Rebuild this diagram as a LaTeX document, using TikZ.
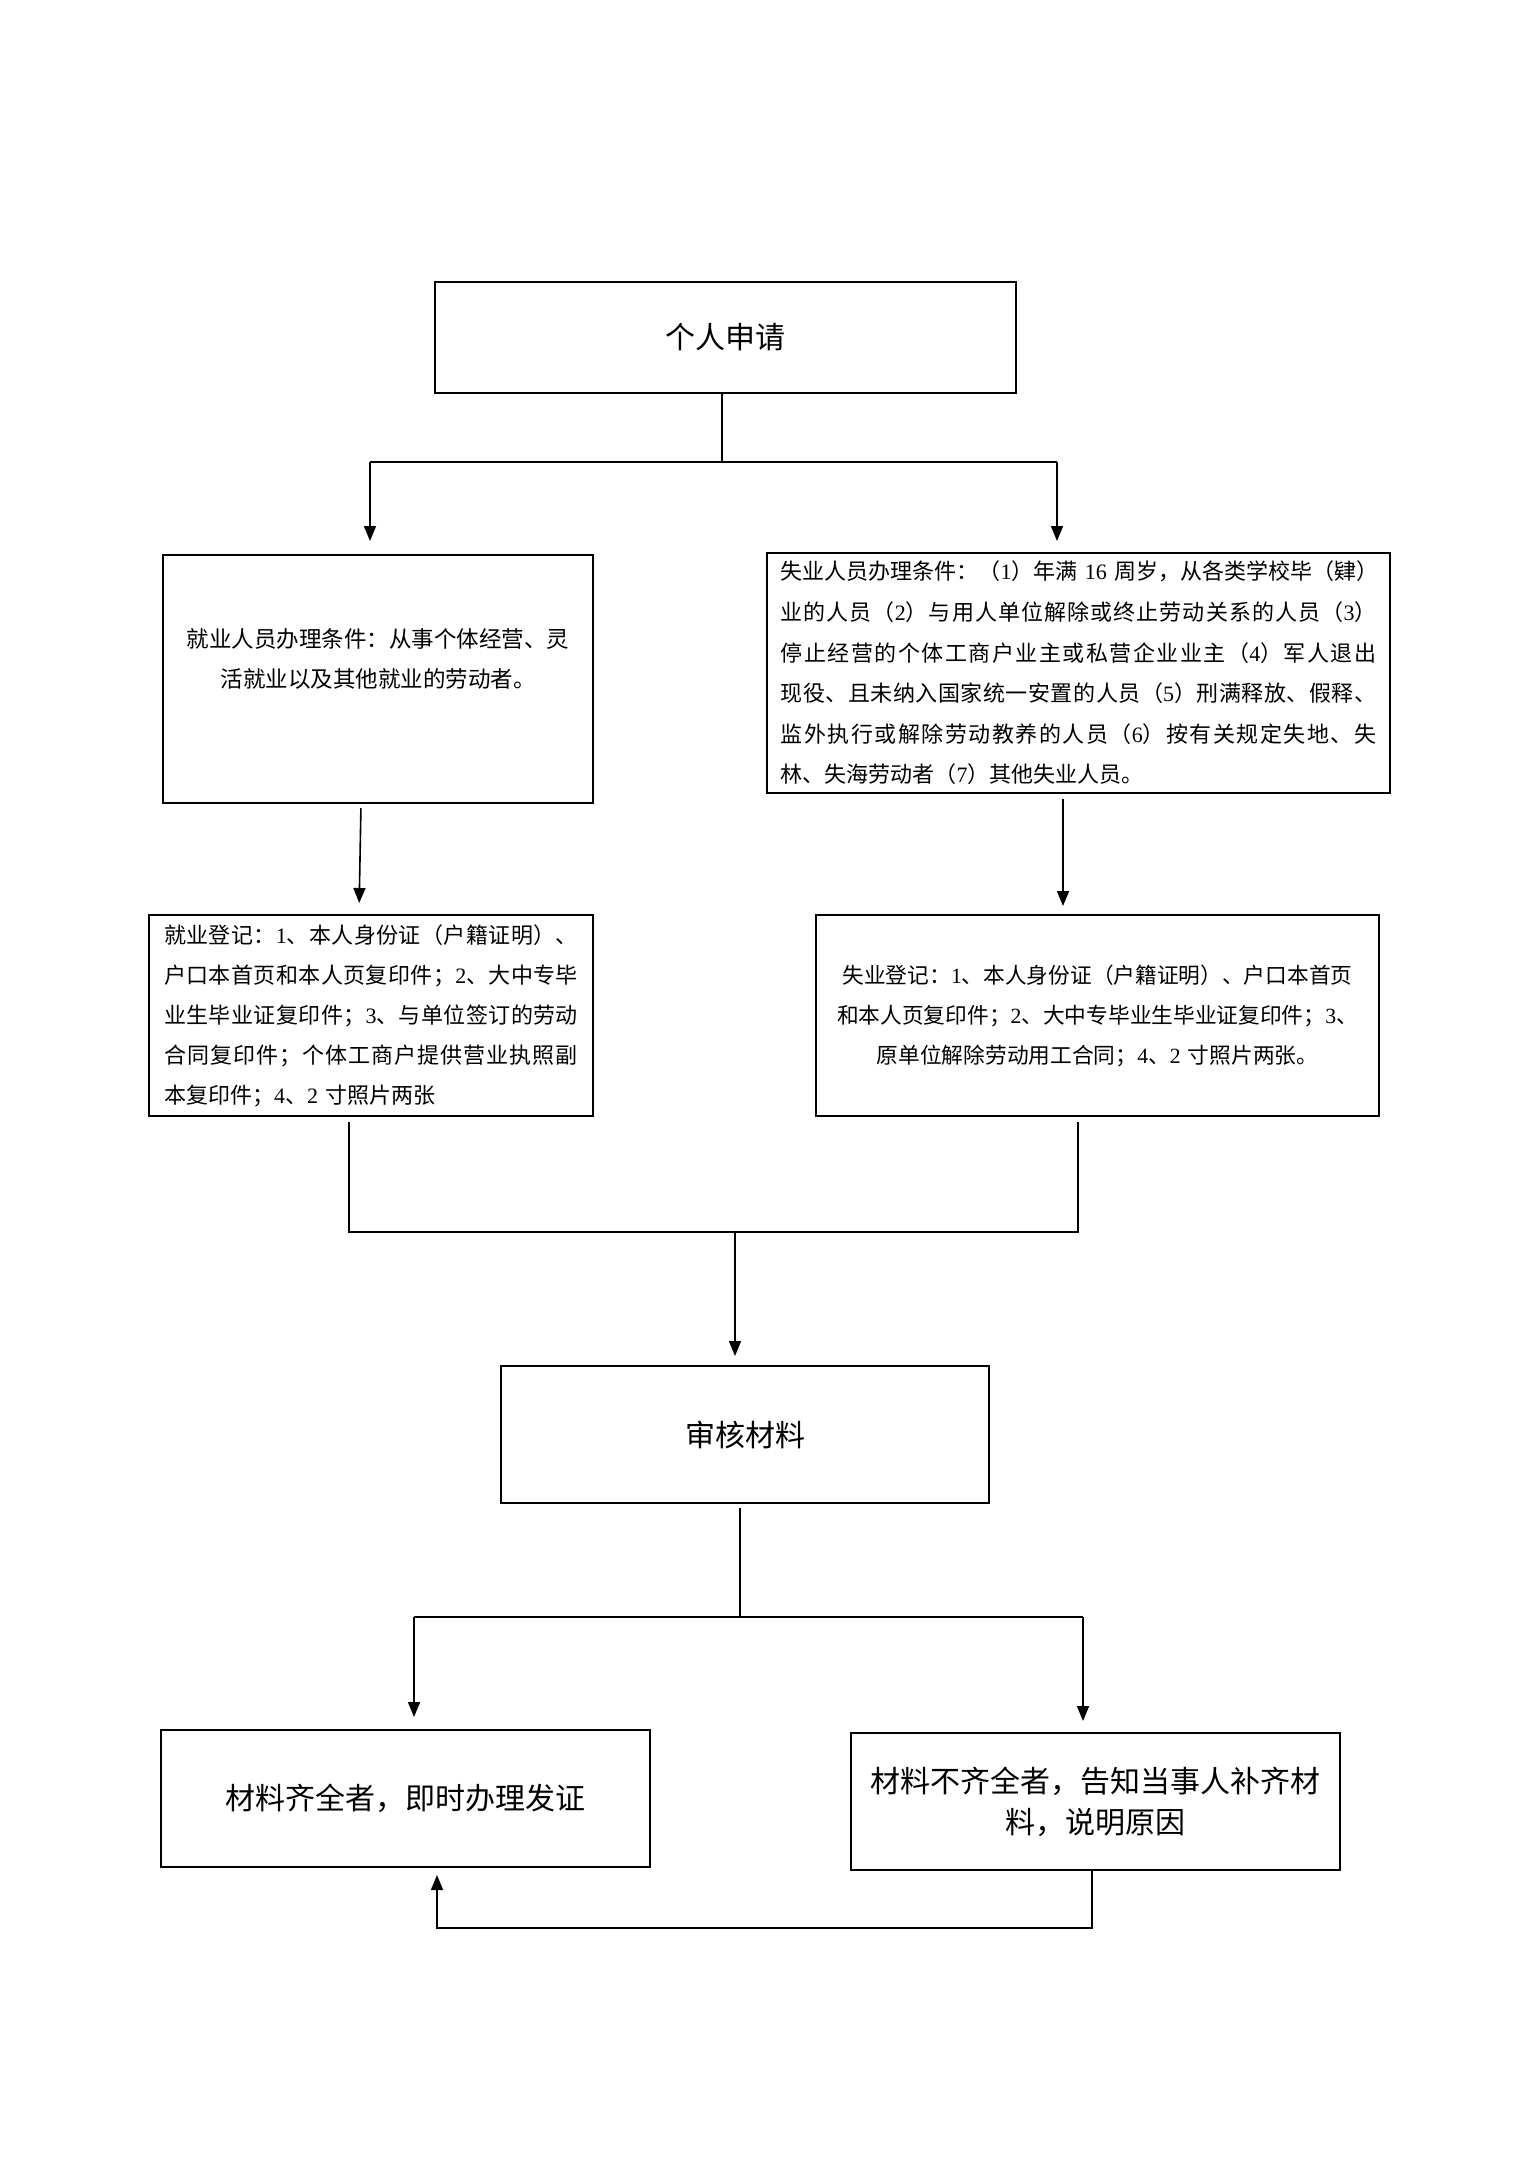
\documentclass[tikz,border=0pt]{standalone}
\usepackage{fontspec}
\setmainfont{Noto Sans CJK SC}
\newfontfamily\lat{Liberation Serif}
\usetikzlibrary{arrows.meta,calc}
\newcommand\dg[1]{{\lat #1}}
\newXeTeXintercharclass\mycjkcls
\makeatletter
\count@="3000
\loop
  \XeTeXcharclass\count@=\mycjkcls
  \advance\count@ 1
\ifnum\count@<"A000 \repeat
\count@="FF00
\loop
  \XeTeXcharclass\count@=\mycjkcls
  \advance\count@ 1
\ifnum\count@<"FFF0 \repeat
\makeatother
\XeTeXinterchartoks\mycjkcls\mycjkcls = {\hskip 0pt plus 3pt}
\newcommand\jl[2]{\makebox[#1][s]{\XeTeXinterchartokenstate=1 #2}}
\begin{document}
\begin{tikzpicture}[x=1pt,y=1pt,
  box/.style={draw, line width=2pt, inner sep=0pt},
  conn/.style={line width=1.6pt},
  arr/.style={conn,-{Triangle[length=15pt,width=12pt]}}]
\useasboundingbox (0,0) rectangle (1529,-2163);
\fill[white] (0,0) rectangle (1529,-2163);

\node[box, minimum width=581pt, minimum height=111pt, font=\fontsize{30}{40}\selectfont] (b1) at (725.5,-337.5) {个人申请};

\node[box, minimum width=430pt, minimum height=248pt] (b2) at (378,-679) {};
\node[align=center, font=\fontsize{22.5}{40}\selectfont] (t2) at ([yshift=20pt]b2.center) {就业人员办理条件：从事个体经营、灵\\活就业以及其他就业的劳动者。};

\node[box, minimum width=623pt, minimum height=240pt, text width=596pt, align=left, font=\fontsize{22}{40.6}\selectfont] (b3) at (1078.5,-673) {%
\jl{596pt}{失业人员办理条件：（\dg{1}）年满 \dg{16} 周岁，从各类学校毕（肄）}\\
\jl{596pt}{业的人员（\dg{2}）与用人单位解除或终止劳动关系的人员（\dg{3}）}\\
\jl{596pt}{停止经营的个体工商户业主或私营企业业主（\dg{4}）军人退出}\\
\jl{596pt}{现役、且未纳入国家统一安置的人员（\dg{5}）刑满释放、假释、}\\
\jl{596pt}{监外执行或解除劳动教养的人员（\dg{6}）按有关规定失地、失}\\
林、失海劳动者（\dg{7}）其他失业人员。};

\node[box, minimum width=444pt, minimum height=201pt, text width=414pt, align=left, font=\fontsize{22}{40}\selectfont] (b4) at (371,-1015.5) {%
\jl{414pt}{就业登记：\dg{1}、本人身份证（户籍证明）、}\\
\jl{414pt}{户口本首页和本人页复印件；\dg{2}、大中专毕}\\
\jl{414pt}{业生毕业证复印件；\dg{3}、与单位签订的劳动}\\
\jl{414pt}{合同复印件；个体工商户提供营业执照副}\\
本复印件；\dg{4}、\dg{2} 寸照片两张};

\node[box, minimum width=563pt, minimum height=201pt, text width=545pt, align=center, font=\fontsize{21.7}{40}\selectfont] (b5) at (1097.5,-1015.5) {%
失业登记：\dg{1}、本人身份证（户籍证明）、户口本首页\\
和本人页复印件；\dg{2}、大中专毕业生毕业证复印件；\dg{3}、\\
原单位解除劳动用工合同；\dg{4}、\dg{2} 寸照片两张。};

\node[box, minimum width=488pt, minimum height=137pt, font=\fontsize{30}{40}\selectfont] (b6) at (745,-1434.5) {审核材料};

\node[box, minimum width=489pt, minimum height=137pt, font=\fontsize{30}{40}\selectfont] (b7) at (405.5,-1798.5) {材料齐全者，即时办理发证};

\node[box, minimum width=489pt, minimum height=137pt, align=center, font=\fontsize{30}{41}\selectfont] (b8) at (1095.5,-1801.5) {材料不齐全者，告知当事人补齐材\\料，说明原因};

% connectors top
\coordinate (j1) at (722,-462);
\coordinate (jl) at (370,-462);
\coordinate (jr) at (1057,-462);
\draw[conn] (b1.south -| j1) -- (j1);
\draw[conn] (jl) -- (jr);
\draw[arr, shorten >=13pt] (jl) -- (jl |- b2.north);
\draw[arr, shorten >=11pt] (jr) -- (jr |- b3.north);

% condition boxes to registration boxes
\draw[arr, shorten <=4pt, shorten >=11pt] ([xshift=-17pt]b2.south) -- ([xshift=-12pt]b4.north);
\coordinate (c3) at ([xshift=-15.5pt]b3.south);
\draw[arr, shorten <=5pt, shorten >=8pt] (c3) -- (c3 |- b5.north);

% merge
\coordinate (m4) at ([xshift=-22pt]b4.south);
\coordinate (m5) at ([xshift=-19.5pt]b5.south);
\coordinate (j2) at (735,-1232);
\draw[conn] ([yshift=-5pt]m4) -- (m4 |- j2) -- (m5 |- j2) -- ([yshift=-5pt]m5);
\draw[arr, shorten >=9pt] (j2) -- (j2 |- b6.north);

% split after review
\coordinate (j3) at (740,-1617);
\coordinate (j3l) at (414,-1617);
\coordinate (j3r) at (1083,-1617);
\draw[conn, shorten <=4pt] (b6.south -| j3) -- (j3);
\draw[conn] (j3l) -- (j3r);
\draw[arr, shorten >=12pt] (j3l) -- (j3l |- b7.north);
\draw[arr, shorten >=11pt] (j3r) -- (j3r |- b8.north);

% feedback
\coordinate (f1) at (1092,-1928);
\coordinate (f2) at (437,-1928);
\draw[arr, shorten >=7pt] (b8.south -| f1) -- (f1) -- (f2) -- (f2 |- b7.south);
\end{tikzpicture}
\end{document}
